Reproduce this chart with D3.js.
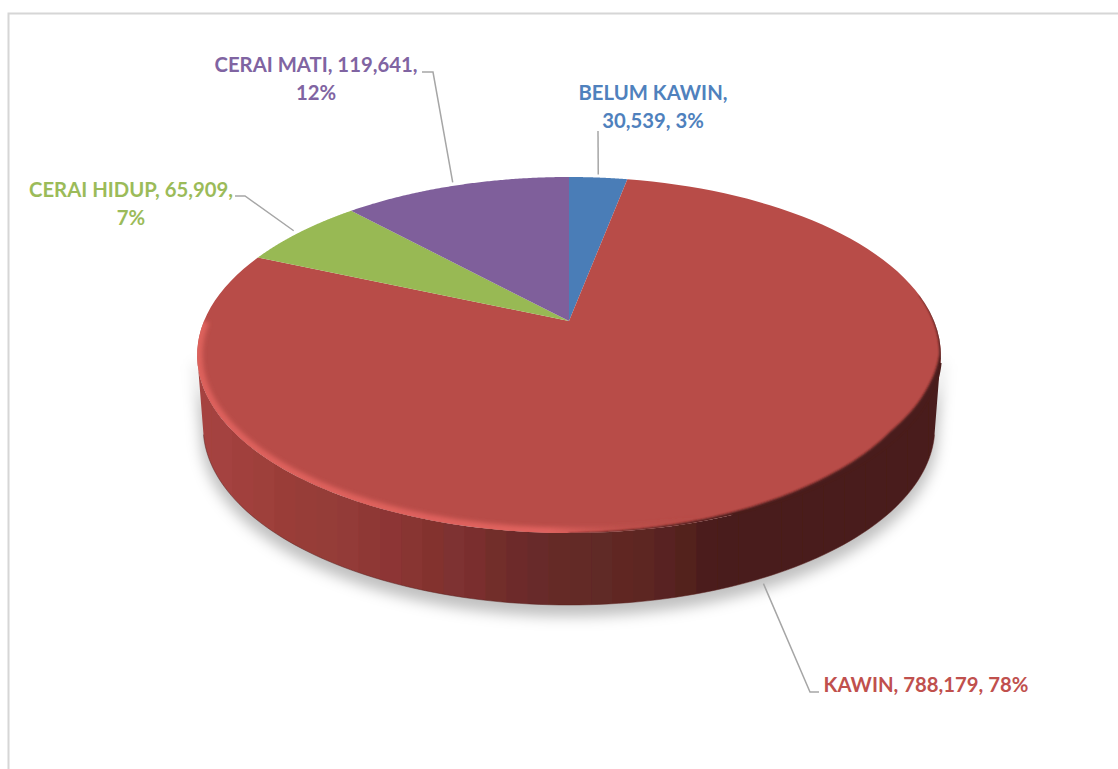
<!DOCTYPE html>
<html>
<head>
<meta charset="utf-8">
<script src="https://cdn.jsdelivr.net/npm/d3@7/dist/d3.min.js"></script>
<style>
  html, body { margin: 0; padding: 0; background: #fff; }
  svg { display: block; }
  text { font-family: Lato, "Open Sans", sans-serif; font-weight: 700; font-size: 20.3px; }
</style>
</head>
<body>
<svg id="chart" width="1118" height="769"></svg>
<script>
// Marital status totals
const categories = ["BELUM KAWIN", "KAWIN", "CERAI HIDUP", "CERAI MATI"];
const values = [30539, 788179, 65909, 119641];

// Slice fills and label inks
const sliceColors = ["#4a7db7", "#b84c48", "#98b954", "#7f5f9b"];
const labelColors = ["#4f81bd", "#c0504d", "#9bbb59", "#8064a2"];

// How each label wraps, by number of fields on the first line
const firstLineFields = [1, 3, 2, 2];
// Label line centres, first baseline, elbow start, elbow bend, and the leader's nudge off the rim
const labelCentre = [653, 926, 131, 316];
const labelBaseline = [100, 692, 197, 72];
const elbowStart = [[598, 131], [819, 692], [235, 196], [422, 72]];
const elbowBend = [null, [810, 692], [245, 196], [433, 72]];
const leaderNudge = [[0, -3], [-7, 8], [-7, -1], [-3, -3]];

// Side wall shades, left to right
const wallShades = [
  "#a5433f", "#a4433f", "#a1413d", "#9e403b", "#9a3e39", "#973c38", "#953c38", "#933a37",
  "#8f3735", "#8d3635", "#883433", "#83322f", "#7e3030", "#7a2e2e", "#722d2c", "#6d2b2b",
  "#682a29", "#652a27", "#632a26", "#612925", "#602824", "#5d2623", "#582421", "#52201d",
  "#4c1d1b", "#4a1c1a", "#4a1c1a", "#4a1c1a", "#4a1c1a", "#4a1c1a", "#4a1c1a", "#4a1c1a",
  "#4a1c1a", "#4a1c1a", "#4a1c1a", "#4a1c1a"
];

// Depth of the shaded bevel along the lower right rim, as a share of the apex-to-rim ray
const bevelAngles = [0.45, 0.56, 0.62, 0.7, 0.79, 0.9, 1.0];
const bevelDepths = [0, 0.004, 0.018, 0.032, 0.024, 0.008, 0];

const svg = d3.select("#chart");
const fmt = d3.format(",");
const total = d3.sum(values);

// Perspective disc: unit circle mapped so the apex sits above the ellipse's middle
const apexX = 569, apexY = 321;
const perspective = 0.191, spanX = 365, spanY = 171.5;
const wallDepth = 72, wallTaper = 366 / 372;

function topPoint(angle) {
  const u = Math.sin(angle), v = Math.cos(angle), w = 1 + perspective * v;
  return [apexX + spanX * u / w, apexY - spanY * v / w];
}
function basePoint(angle) {
  const [x, y] = topPoint(angle);
  return [apexX + (x - apexX) * wallTaper, y + wallDepth];
}
const arcAngles = (a0, a1) => d3.range(0, 121).map(i => a0 + (a1 - a0) * i / 120);
const line = d3.line();

const arcs = d3.pie().sort(null).startAngle(0).endAngle(2 * Math.PI)(values);

const defs = svg.append("defs");
const blur = (id, sd) => defs.append("filter")
  .attr("id", id).attr("x", "-10%").attr("y", "-10%").attr("width", "120%").attr("height", "120%")
  .append("feGaussianBlur").attr("stdDeviation", sd);
blur("soft", 7);
blur("rimBlur", 2);
blur("bevelBlur", 1.3);
blur("bandBlur", 0.7);

const fullTop = arcAngles(0, 2 * Math.PI).map(topPoint);
defs.append("clipPath").attr("id", "topClip").append("path").attr("d", line(fullTop) + "Z");

// Front wall: the top rim between its side extremes, joined by tangents to the base arc
const wallFrom = Math.PI * 0.561, wallTo = Math.PI * 1.439;
const baseFrom = Math.PI * 0.5745, baseTo = Math.PI * 1.4255;
const baseArc = arcAngles(baseFrom, baseTo).map(basePoint);
const wallPath = line(arcAngles(wallFrom, wallTo).map(topPoint).concat(baseArc.slice().reverse())) + "Z";
defs.append("clipPath").attr("id", "wallClip").append("path").attr("d", wallPath);

// Chart frame
svg.append("path")
  .attr("d", "M8.5,769V13.5H1118")
  .attr("fill", "none").attr("stroke", "#d6d6d6").attr("stroke-width", 2);

// Soft ground shadow
svg.append("path")
  .attr("d", wallPath)
  .attr("transform", "translate(0,9)")
  .attr("fill", "#000").attr("fill-opacity", 0.24)
  .attr("stroke", "#000").attr("stroke-opacity", 0.1).attr("stroke-width", 8)
  .attr("filter", "url(#soft)");

// Wall facets
const bandX = d3.scaleBand().domain(d3.range(wallShades.length)).range([190, 950]);
svg.append("g").attr("clip-path", "url(#wallClip)")
  .append("g").attr("filter", "url(#bandBlur)")
  .selectAll("rect").data(wallShades).join("rect")
  .attr("x", (d, i) => bandX(i)).attr("y", 300)
  .attr("width", bandX.bandwidth() + 1).attr("height", 320)
  .attr("fill", d => d);

// Thin darker line under the wall
svg.append("path")
  .attr("d", line(baseArc))
  .attr("fill", "none").attr("stroke", "#5a1f1e").attr("stroke-opacity", 0.5).attr("stroke-width", 1);

// Top face slices
svg.append("g").selectAll("path").data(arcs).join("path")
  .attr("d", d => line([[apexX, apexY]].concat(arcAngles(d.startAngle, d.endAngle).map(topPoint))) + "Z")
  .attr("fill", (d, i) => sliceColors[i]);

// Lit bevel on the lower left rim
const rimGrad = defs.append("linearGradient").attr("id", "rimGrad")
  .attr("gradientUnits", "userSpaceOnUse").attr("x1", 197).attr("x2", 700).attr("y1", 0).attr("y2", 0);
[[0, "#df625d", 0.95], [0.7, "#e0625e", 1], [0.86, "#c85550", 0.35], [1, "#b84c48", 0]]
  .forEach(([o, c, a]) => rimGrad.append("stop").attr("offset", o).attr("stop-color", c).attr("stop-opacity", a));
const rimLayer = svg.append("g").attr("clip-path", "url(#topClip)");
rimLayer.append("path")
  .attr("d", line(arcAngles(Math.PI * 0.9, Math.PI * 1.5).map(topPoint)))
  .attr("fill", "none").attr("stroke", "url(#rimGrad)").attr("stroke-width", 11)
  .attr("filter", "url(#rimBlur)");

// Shaded bevel on the lower right rim; its outer side overshoots so only the inner edge is soft
const bevelDepth = d3.scaleLinear().domain(bevelAngles.map(a => a * Math.PI)).range(bevelDepths);
const bevelRun = arcAngles(bevelAngles[0] * Math.PI, Math.PI);
const ray = (a, k) => {
  const [x, y] = topPoint(a);
  return [x + (apexX - x) * k, y + (apexY - y) * k];
};
const bevelOuter = bevelRun.map(a => ray(a, -0.03));
const bevelInner = bevelRun.map(a => ray(a, bevelDepth(a)));
rimLayer.append("path")
  .attr("d", line(bevelOuter.concat(bevelInner.reverse())) + "Z")
  .attr("fill", "#4a1c1a")
  .attr("filter", "url(#bevelBlur)");

// Seal the seam where the shaded bevel meets the wall
svg.append("path")
  .attr("d", line(arcAngles(Math.PI * 0.575, Math.PI * 0.88).map(topPoint)))
  .attr("fill", "none").attr("stroke", "#4a1c1a").attr("stroke-width", 2.2);

// Leader lines, anchored at each slice's mid-angle on the visible rim
const leaders = arcs.map((d, i) => {
  const mid = (d.startAngle + d.endAngle) / 2;
  const rim = Math.cos(mid) < 0 ? basePoint(mid) : topPoint(mid);
  const end = [rim[0] + leaderNudge[i][0], rim[1] + leaderNudge[i][1]];
  return [elbowStart[i]].concat(elbowBend[i] ? [elbowBend[i]] : []).concat([end]);
});
svg.append("g").selectAll("path").data(leaders).join("path")
  .attr("d", d => line(d))
  .attr("fill", "none").attr("stroke", "#a6a6a6").attr("stroke-width", 1.5);

// Data labels: category, value, share
const labels = svg.append("g").selectAll("text").data(categories).join("text")
  .attr("fill", (d, i) => labelColors[i])
  .attr("text-anchor", "middle");
labels.each(function (name, i) {
  const fields = [name, fmt(values[i]), Math.round(values[i] / total * 100) + "%"];
  const first = fields.slice(0, firstLineFields[i]).join(", ");
  const rest = fields.slice(firstLineFields[i]).join(", ");
  const lines = rest ? [first + ",", rest] : [first];
  d3.select(this).selectAll("tspan").data(lines).join("tspan")
    .attr("x", labelCentre[i])
    .attr("y", (t, k) => labelBaseline[i] + k * 28)
    .text(t => t);
});
</script>
</body>
</html>
